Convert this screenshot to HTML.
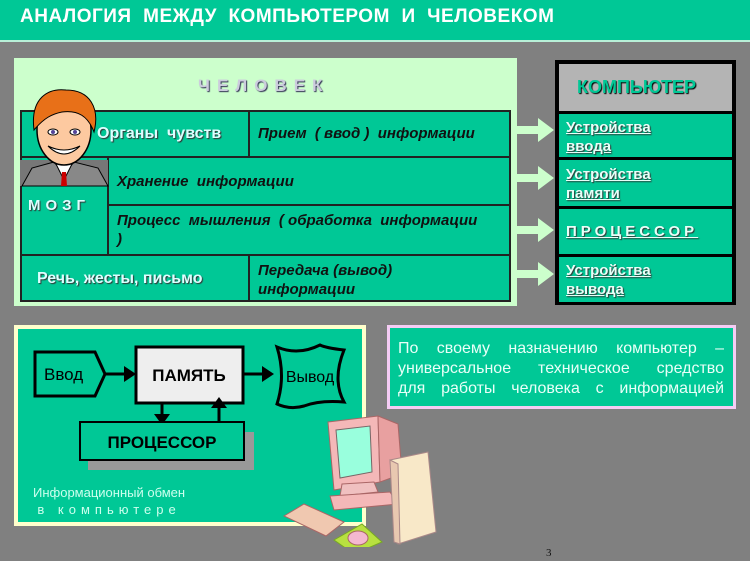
<!DOCTYPE html>
<html><head><meta charset="utf-8"><style>
body{margin:0;width:750px;height:561px;background:#808080;position:relative;overflow:hidden;font-family:"Liberation Sans",sans-serif}
.a{position:absolute;box-sizing:border-box}
.t{color:#111;font-weight:bold;font-style:italic;font-size:15px}
.w{color:#dff;font-weight:bold;font-size:16px;text-shadow:1px 1px 1px #333}
.cu{color:#e8fff8;font-weight:bold;font-size:15px;text-decoration:underline;text-shadow:1px 1px 1px #333;line-height:19px}
.jl{width:326px;height:20px;text-align:justify;text-align-last:justify;white-space:nowrap;overflow:hidden}
</style></head><body>
<div class="a" style="left:0;top:0;width:750px;height:42px;background:#00c896;border-bottom:2px solid #b8f0d8"></div>
<div class="a" style="left:20px;top:6px;color:#fff;font-weight:bold;font-size:19px;letter-spacing:0.5px">АНАЛОГИЯ&nbsp; МЕЖДУ&nbsp; КОМПЬЮТЕРОМ&nbsp; И&nbsp; ЧЕЛОВЕКОМ</div>

<div class="a" style="left:14px;top:58px;width:503px;height:248px;background:#ccffcc"></div>
<div class="a" style="left:198px;top:76px;font-weight:bold;font-size:17px;color:#ccd;letter-spacing:7px;text-shadow:1px 1px 1px #335">ЧЕЛОВЕК</div>
<div class="a" style="left:20px;top:110px;width:491px;height:192px;background:#00c896;border:2px solid #222"></div>
<div class="a" style="left:20px;top:156px;width:491px;height:2px;background:#222"></div>
<div class="a" style="left:108px;top:204px;width:403px;height:2px;background:#222"></div>
<div class="a" style="left:20px;top:254px;width:491px;height:2px;background:#222"></div>
<div class="a" style="left:248px;top:110px;width:2px;height:47px;background:#222"></div>
<div class="a" style="left:248px;top:254px;width:2px;height:48px;background:#222"></div>
<div class="a" style="left:107px;top:156px;width:2px;height:100px;background:#222"></div>
<div class="a w" style="left:97px;top:125px">Органы&nbsp; чувств</div>
<div class="a t" style="left:258px;top:125px">Прием&nbsp; ( ввод )&nbsp; информации</div>
<div class="a t" style="left:117px;top:173px">Хранение&nbsp; информации</div>
<div class="a t" style="left:117px;top:211px;line-height:19px">Процесс&nbsp; мышления&nbsp; ( обработка&nbsp; информации<br>)</div>
<div class="a w" style="left:28px;top:197px;letter-spacing:5px;font-size:15px">МОЗГ</div>
<div class="a w" style="left:37px;top:270px">Речь, жесты, письмо</div>
<div class="a t" style="left:258px;top:261px;line-height:19px">Передача (вывод)<br>информации</div>
<svg class="a" style="left:18px;top:88px" width="92" height="100">
<rect x="2" y="72" width="88" height="26" fill="#777"/>
<path d="M4 98 L14 80 L36 74 L46 86 L56 74 L80 80 L90 98Z" fill="#888" stroke="#000"/>
<path d="M38 76 L46 92 L54 76Z" fill="#fff" stroke="#000"/><path d="M44 84 L48 84 L49 98 L43 98Z" fill="#c00"/>
<ellipse cx="46" cy="42" rx="27" ry="35" fill="#fdc9a0" stroke="#000" stroke-width="1.5"/>
<path d="M16 42 C12 10 30 0 48 2 C72 2 82 20 76 44 C70 28 60 22 44 24 C34 26 26 30 16 42Z" fill="#e87018" stroke="#000"/>
<ellipse cx="35" cy="44" rx="5" ry="3" fill="#fff" stroke="#000"/><circle cx="35" cy="44" r="2" fill="#549"/>
<ellipse cx="57" cy="44" rx="5" ry="3" fill="#fff" stroke="#000"/><circle cx="57" cy="44" r="2" fill="#549"/>
<path d="M30 58 Q46 74 62 58 Q46 66 30 58Z" fill="#fff" stroke="#000"/>
</svg>

<svg class="a" style="left:514px;top:110px" width="44" height="180">
<g fill="#ccffcc">
<path d="M2 16 h22 v-8 l16 12 l-16 12 v-8 h-22z"/><path d="M2 64 h22 v-8 l16 12 l-16 12 v-8 h-22z"/>
<path d="M2 116 h22 v-8 l16 12 l-16 12 v-8 h-22z"/><path d="M2 160 h22 v-8 l16 12 l-16 12 v-8 h-22z"/></g></svg>

<div class="a" style="left:555px;top:60px;width:181px;height:245px;background:#000"></div>
<div class="a" style="left:559px;top:64px;width:173px;height:47px;background:#b4b4b4"></div>
<div class="a" style="left:577px;top:77px;font-weight:bold;font-size:18px;color:#00c896;text-shadow:1px 1px 1px #000">КОМПЬЮТЕР</div>
<div class="a" style="left:559px;top:114px;width:173px;height:43px;background:#00c896"></div>
<div class="a" style="left:559px;top:160px;width:173px;height:46px;background:#00c896"></div>
<div class="a" style="left:559px;top:209px;width:173px;height:45px;background:#00c896"></div>
<div class="a" style="left:559px;top:257px;width:173px;height:45px;background:#00c896"></div>
<div class="a cu" style="left:566px;top:118px">Устройства<br>ввода</div>
<div class="a cu" style="left:566px;top:165px">Устройства<br>памяти</div>
<div class="a cu" style="left:566px;top:222px;letter-spacing:4px">ПРОЦЕССОР</div>
<div class="a cu" style="left:566px;top:261px">Устройства<br>вывода</div>

<div class="a" style="left:14px;top:325px;width:352px;height:201px;background:#00c896;border:4px solid #ffffcc"></div>
<div class="a" style="left:387px;top:325px;width:349px;height:84px;background:#00c896;border:3px solid #f4ccf4"></div>
<div class="a" style="left:398px;top:339px;color:#e8fff8;font-size:16px;line-height:20px">
<div class="jl">По своему назначению компьютер –</div>
<div class="jl">универсальное техническое средство</div>
<div class="jl">для работы человека с информацией</div>
</div>

<svg class="a" style="left:30px;top:340px" width="325" height="130">
<path d="M5 12 H65 L75 34 L65 56 H5Z" fill="#00c896" stroke="#000" stroke-width="3"/>
<text x="14" y="40" font-size="17" font-family="Liberation Sans">Ввод</text>
<line x1="75" y1="34" x2="96" y2="34" stroke="#000" stroke-width="3"/><path d="M94 26 L106 34 L94 42Z"/>
<rect x="106" y="7" width="107" height="56" fill="#eee" stroke="#000" stroke-width="3"/>
<text x="159" y="41" font-size="17" font-weight="bold" text-anchor="middle" font-family="Liberation Sans">ПАМЯТЬ</text>
<line x1="213" y1="34" x2="234" y2="34" stroke="#000" stroke-width="3"/><path d="M232 26 L244 34 L232 42Z"/>
<path d="M247 7 Q268 16 290 5 Q296 8 314 10 Q302 40 314 62 Q290 60 274 66 Q260 70 247 64 Q256 36 247 7Z" fill="#00c896" stroke="#000" stroke-width="3"/>
<text x="280" y="42" font-size="16" text-anchor="middle" font-family="Liberation Sans">Вывод</text>
<line x1="132" y1="63" x2="132" y2="76" stroke="#000" stroke-width="3"/><path d="M124 74 L132 85 L140 74Z"/>
<line x1="189" y1="83" x2="189" y2="66" stroke="#000" stroke-width="3"/><path d="M181 68 L189 57 L197 68Z"/>
<rect x="58" y="92" width="166" height="38" fill="#999"/>
<rect x="50" y="82" width="164" height="38" fill="#00c896" stroke="#000" stroke-width="2"/>
<text x="132" y="108" font-size="17" font-weight="bold" text-anchor="middle" font-family="Liberation Sans">ПРОЦЕССОР</text>
</svg>
<div class="a" style="left:33px;top:484px;color:#cfe;font-size:13px;line-height:17px;text-align:center">Информационный обмен<br><span style="letter-spacing:5px">в компьютере</span></div>

<svg class="a" style="left:278px;top:412px" width="170" height="135">
<path d="M50 10 L100 4 L102 70 L56 78Z" fill="#f4b8b8" stroke="#a66"/>
<path d="M58 18 L92 14 L94 60 L62 66Z" fill="#9fd" stroke="#766"/>
<path d="M100 4 L120 12 L124 62 L102 70Z" fill="#e8a0a0" stroke="#a66"/>
<path d="M64 72 L96 70 L100 80 L62 84Z" fill="#f0c0c0" stroke="#a66"/>
<path d="M52 84 L112 80 L120 92 L56 98Z" fill="#f4b8b8" stroke="#a66"/>
<path d="M112 48 L150 40 L158 120 L120 132Z" fill="#f8e8c8" stroke="#a88"/>
<path d="M112 48 L120 52 L122 132 L116 130Z" fill="#e8c8b0" stroke="#a88"/>
<path d="M6 104 L26 92 L66 110 L48 124Z" fill="#f0c8b0" stroke="#a66"/>
<path d="M56 128 L84 112 L104 130 L76 142Z" fill="#b8e040" stroke="#7a2"/>
<ellipse cx="80" cy="126" rx="10" ry="7" fill="#f4b8d0" stroke="#a66"/>
</svg>
<div class="a" style="left:546px;top:547px;font-family:'Liberation Serif',serif;font-size:11px;color:#111">3</div>
</body></html>
